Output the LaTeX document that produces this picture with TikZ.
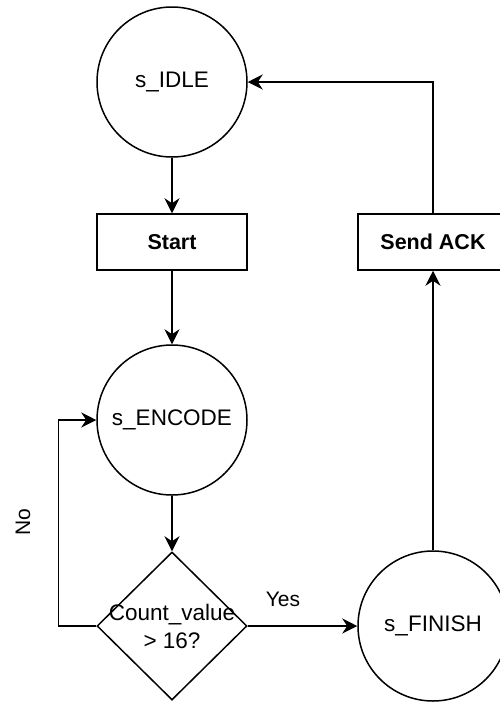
\documentclass[tikz,border=0pt]{standalone}
\usepackage{fontspec}
\setmainfont{Liberation Sans}
\usetikzlibrary{shapes.geometric,arrows.meta}
\begin{document}
\begin{tikzpicture}[x=1pt,y=-1pt,
  line width=1.5pt,
  every node/.style={font=\fontsize{22.5}{28}\selectfont},
  state/.style={circle,draw,minimum size=150pt,inner sep=0pt},
  action/.style={rectangle,draw,minimum width=150pt,minimum height=56pt,inner sep=0pt,
    font=\fontsize{21.5}{26}\selectfont\bfseries},
  decision/.style={diamond,draw,minimum width=150pt,minimum height=148pt,inner sep=0pt},
  arr/.style={-{Stealth[length=15pt,width=15pt,inset=5pt]}},
  lbl/.style={font=\fontsize{21}{26}\selectfont}]
  % page frame
  \fill[white] (0,0) rectangle (499,702);
  \useasboundingbox (0,0) rectangle (499,702);

  % states and steps
  \node[state]    (idle)   at (172,82)  {s\_IDLE};
  \node[action]   (start)  at (172,242) {Start};
  \node[state]    (enc)    at (172,420) {s\_ENCODE};
  \node[decision] (dec)    at (172,626) {};
  \node[align=center,inner sep=0pt] (dectext) at (dec.center) {Count\_value\\> 16?};
  \node[state]    (finish) at (433,626) {s\_FINISH};
  \node[action]   (ack)    at (433,242) {Send ACK};

  % flow
  \draw[arr] (idle.south) -- (start.north);
  \draw[arr] (start.south) -- (enc.north);
  \draw[arr] (enc.south) -- (dec.north);
  \draw[arr] (dec.east) -- (finish.west);
  \draw[arr] (dec.west) -- ++(-38,0) coordinate (noturn) |- (enc.west);
  \draw[arr] (finish.north) -- (ack.south);
  \draw[arr] (ack.north) |- (idle.east);

  % branch labels
  \node[lbl] (yes) at (283,599) {Yes};
  \node[lbl,rotate=90] (no) at (23,522) {No};
\end{tikzpicture}
\end{document}
